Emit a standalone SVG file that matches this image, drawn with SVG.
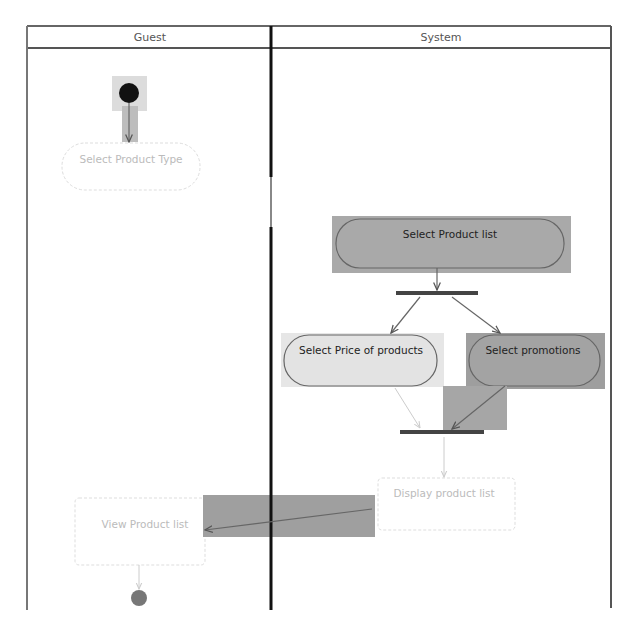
<svg xmlns="http://www.w3.org/2000/svg" width="640" height="640" viewBox="0 0 640 640">
<defs>
<marker id="arr" viewBox="0 0 10 10" refX="9" refY="5" markerWidth="7" markerHeight="7" orient="auto-start-reverse">
<path d="M0,1 L9,5 L0,9" fill="none" stroke="#555" stroke-width="1.5"/>
</marker>
<marker id="arrf" viewBox="0 0 10 10" refX="9" refY="5" markerWidth="7" markerHeight="7" orient="auto-start-reverse">
<path d="M0,1 L9,5 L0,9" fill="none" stroke="#ccc" stroke-width="1.5"/>
</marker>
</defs>
<style>
text{font-family:"DejaVu Sans","Liberation Sans",sans-serif;font-size:10.5px;text-anchor:middle;dominant-baseline:middle}
.hd{fill:#555;font-size:11px}
.faint{fill:#bbb}
.dark{fill:#222}
.node{stroke:#666;stroke-width:1.2}
.fnode{fill:#fff;stroke:#ddd;stroke-width:1;stroke-dasharray:3 2}
.bar{fill:#444}
.c{fill:none;stroke:#666;stroke-width:1.2;marker-end:url(#arr)}
.cf{fill:none;stroke:#ccc;stroke-width:1;marker-end:url(#arrf)}
</style>
<rect width="640" height="640" fill="#fff"/>
<g id="frame">
<line x1="27" y1="26" x2="611" y2="26" stroke="#666" stroke-width="2"/>
<line x1="27" y1="48" x2="611" y2="48" stroke="#555" stroke-width="2"/>
<line x1="27" y1="26" x2="27" y2="610" stroke="#777" stroke-width="2"/>
<line x1="611" y1="26" x2="611" y2="608" stroke="#555" stroke-width="2"/>
<line x1="271" y1="26" x2="271" y2="177" stroke="#111" stroke-width="3"/>
<line x1="271" y1="177" x2="271" y2="227" stroke="#888" stroke-width="2"/>
<line x1="271" y1="227" x2="271" y2="610" stroke="#111" stroke-width="3"/>
<text class="hd" x="150" y="38">Guest</text>
<text class="hd" x="441" y="38">System</text>
</g>
<g id="start">
<rect x="112" y="76" width="35" height="35" fill="#dcdcdc"/>
<rect x="122" y="106" width="16" height="36" fill="#bdbdbd"/>
<circle cx="129" cy="93" r="10" fill="#111"/>
</g>
<g id="selectProductType">
<rect class="fnode" x="62" y="143" width="138" height="47" rx="23"/>
<text class="faint" x="131" y="160">Select Product Type</text>
</g>
<g id="selectProductList">
<rect x="332" y="216" width="239" height="57" fill="#a9a9a9"/>
<rect class="node" x="336" y="219" width="228" height="49" rx="24" fill="#a9a9a9"/>
<text class="dark" x="450" y="235">Select Product list</text>
</g>
<g id="fork">
<rect class="bar" x="396" y="291" width="82" height="4"/>
</g>
<g id="selectPrice">
<rect x="281" y="333" width="163" height="54" fill="#e6e6e6"/>
<rect class="node" x="284" y="335" width="153" height="51" rx="25" fill="#e3e3e3" stroke="#888"/>
<text class="dark" x="361" y="351">Select Price of products</text>
</g>
<g id="selectPromotions">
<rect x="466" y="333" width="139" height="56" fill="#9e9e9e"/>
<rect class="node" x="469" y="335" width="131" height="51" rx="25" fill="#a3a3a3"/>
<text class="dark" x="533" y="351">Select promotions</text>
</g>
<g id="join">
<rect x="443" y="386" width="64" height="44" fill="#a6a6a6"/>
<rect class="bar" x="400" y="430" width="84" height="4"/>
</g>
<g id="displayProductList">
<rect class="fnode" x="378" y="478" width="137" height="52" rx="4"/>
<text class="faint" x="444" y="494">Display product list</text>
</g>
<g id="viewProductList">
<rect class="fnode" x="75" y="498" width="130" height="67" rx="4"/>
<text class="faint" x="145" y="525">View Product list</text>
</g>
<g id="end">
<circle cx="139" cy="598" r="8" fill="#777"/>
</g>
<g id="connectors">
<line class="c" x1="129" y1="103" x2="129" y2="142"/>
<line class="c" x1="437" y1="268" x2="437" y2="290"/>
<line class="c" x1="420" y1="297" x2="391" y2="333"/>
<line class="c" x1="452" y1="297" x2="500" y2="333"/>
<line class="cf" x1="395" y1="388" x2="420" y2="428"/>
<line class="c" x1="505" y1="386" x2="452" y2="429"/>
<line class="cf" x1="444" y1="437" x2="444" y2="477"/>
<rect x="203" y="495" width="172" height="42" fill="#9f9f9f"/>
<line x1="271" y1="495" x2="271" y2="537" stroke="#111" stroke-width="3"/>
<line class="c" x1="372" y1="509" x2="205" y2="530" stroke="#333"/>
<line class="cf" x1="139" y1="565" x2="139" y2="589"/>
</g>
</svg>
